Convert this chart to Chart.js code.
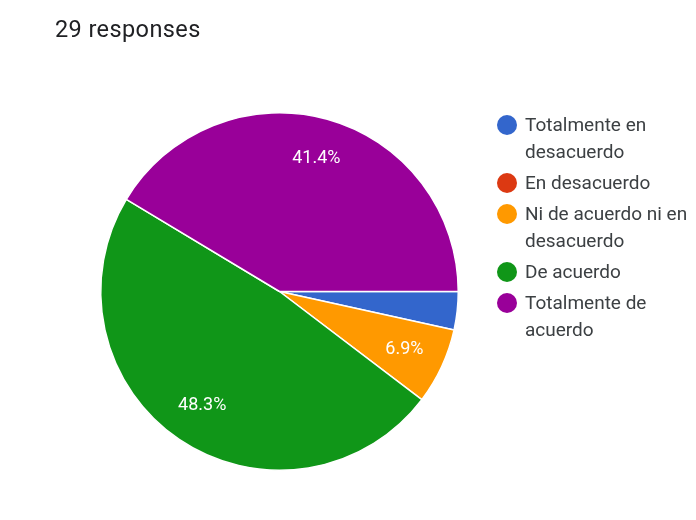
<!DOCTYPE html>
<html>
<head>
<meta charset="utf-8">
<script src="https://cdn.jsdelivr.net/npm/chart.js@4/dist/chart.umd.min.js"></script>
<style>
  body { margin: 0; background: #fff; font-family: Roboto, sans-serif; }
  #wrap { position: relative; width: 696px; height: 520px; }
  #title { position: absolute; left: 55px; top: 15px; font-size: 23.5px; color: #202124; letter-spacing: 0.4px; }
  #legend { position: absolute; left: 497px; top: 111px; width: 208px; font-size: 19px; color: #3c4043; line-height: 27px; }
  .item { position: relative; padding-left: 28px; margin-bottom: 4px; }
  .dot { position: absolute; left: 0; top: 4px; width: 20px; height: 20px; border-radius: 50%; }
</style>
</head>
<body>
<div id="wrap">
  <canvas id="pie" width="696" height="520"></canvas>
  <div id="title">29 responses</div>
  <div id="legend"></div>
</div>
<script>
// Data
const labels = ['Totalmente en desacuerdo', 'En desacuerdo', 'Ni de acuerdo ni en desacuerdo', 'De acuerdo', 'Totalmente de acuerdo'];
const counts = [1, 0, 2, 14, 12];
const colors = ['#3366cc', '#dc3912', '#ff9900', '#109618', '#990099'];

const total = counts.reduce((a, b) => a + b, 0);

// legend on the right
const legendEl = document.getElementById('legend');
labels.forEach((label, i) => {
    const item = document.createElement('div');
    item.className = 'item';
    item.innerHTML = `<span class="dot" style="background:${colors[i]}"></span>${label}`;
    legendEl.appendChild(item);
});

// percentage labels inside slices
const pctLabels = {
    id: 'pctLabels',
    afterDatasetsDraw(chart) {
        const ctx = chart.ctx;
        const meta = chart.getDatasetMeta(0);
        ctx.save();
        ctx.fillStyle = '#fff';
        ctx.font = '18px Roboto, sans-serif';
        ctx.textAlign = 'center';
        ctx.textBaseline = 'middle';
        meta.data.forEach((arc, i) => {
            const pct = counts[i] / total * 100;
            if (pct < 5) return;
            const mid = (arc.startAngle + arc.endAngle) / 2;
            const d = arc.outerRadius * 0.77;
            ctx.fillText(pct.toFixed(1) + '%', arc.x + Math.cos(mid) * d, arc.y + Math.sin(mid) * d);
        });
        ctx.restore();
    }
};

new Chart(document.getElementById('pie'), {
    type: 'pie',
    data: {
        labels: labels,
        datasets: [{
            data: counts,
            backgroundColor: colors,
            borderColor: '#fff',
            borderWidth: 1.5
        }]
    },
    options: {
        responsive: false,
        animation: false,
        rotation: 90,
        layout: { padding: { left: 100, right: 237, top: 112, bottom: 49 } },
        plugins: {
            legend: { display: false },
            tooltip: { enabled: false }
        }
    },
    plugins: [pctLabels]
});
</script>
</body>
</html>
